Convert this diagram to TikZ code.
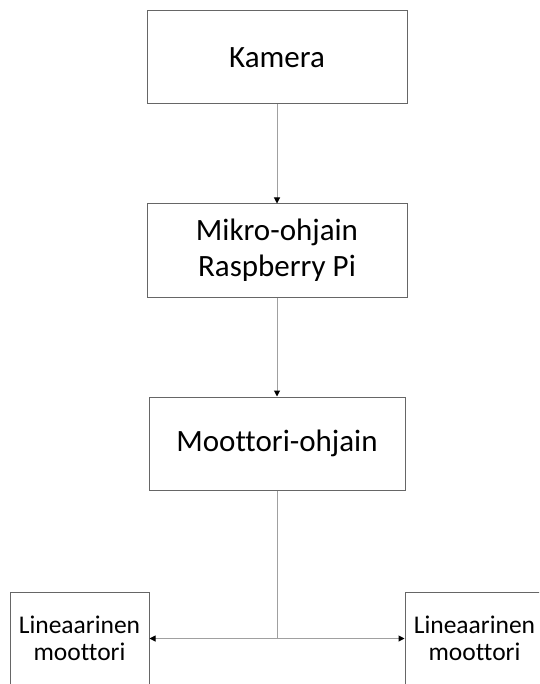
\documentclass[tikz,border=0pt]{standalone}
\usepackage{fontspec}
\setmainfont{Carlito}[RawFeature=-liga]
\usetikzlibrary{arrows.meta}
\definecolor{boxgray}{HTML}{666666}
\definecolor{linegray}{HTML}{A0A0A0}
\begin{document}
\begin{tikzpicture}[x=1pt,y=-1pt,
  box/.style={draw=boxgray, line width=1pt, fill=white, minimum width=260pt, minimum height=93pt, inner sep=0pt, align=center, font=\fontsize{31}{36}\selectfont},
  smallbox/.style={box, minimum width=139pt, font=\fontsize{25.5}{27}\selectfont},
  conn/.style={draw=linegray, line width=1pt},
  tip/.style={-{Triangle[width=6pt,length=6pt,fill=black,color=black]}}]
\useasboundingbox (0,0) rectangle (539,684);
\clip (0,0) rectangle (539,684);
\fill[white] (0,0) rectangle (539,684);
\node[box] (kam) at (277,57.5) {Kamera};
\node[box] (mik) at (277,250.5) {Mikro-ohjain\\Raspberry Pi};
\node[box, minimum width=256pt] (moo) at (277,443.5) {Moottori-ohjain};
\node[smallbox] (lm1) at (79.5,638.5) {Lineaarinen\\moottori};
\node[smallbox] (lm2) at (474.5,638.5) {Lineaarinen\\moottori};
\coordinate (j) at (277,638.5);
\draw[conn,tip] (kam) -- (mik);
\draw[conn,tip] (mik) -- (moo);
\draw[conn] (moo) -- (j);
\draw[conn,tip] (j) -- (lm1);
\draw[conn,tip] (j) -- (lm2);
\end{tikzpicture}
\end{document}
